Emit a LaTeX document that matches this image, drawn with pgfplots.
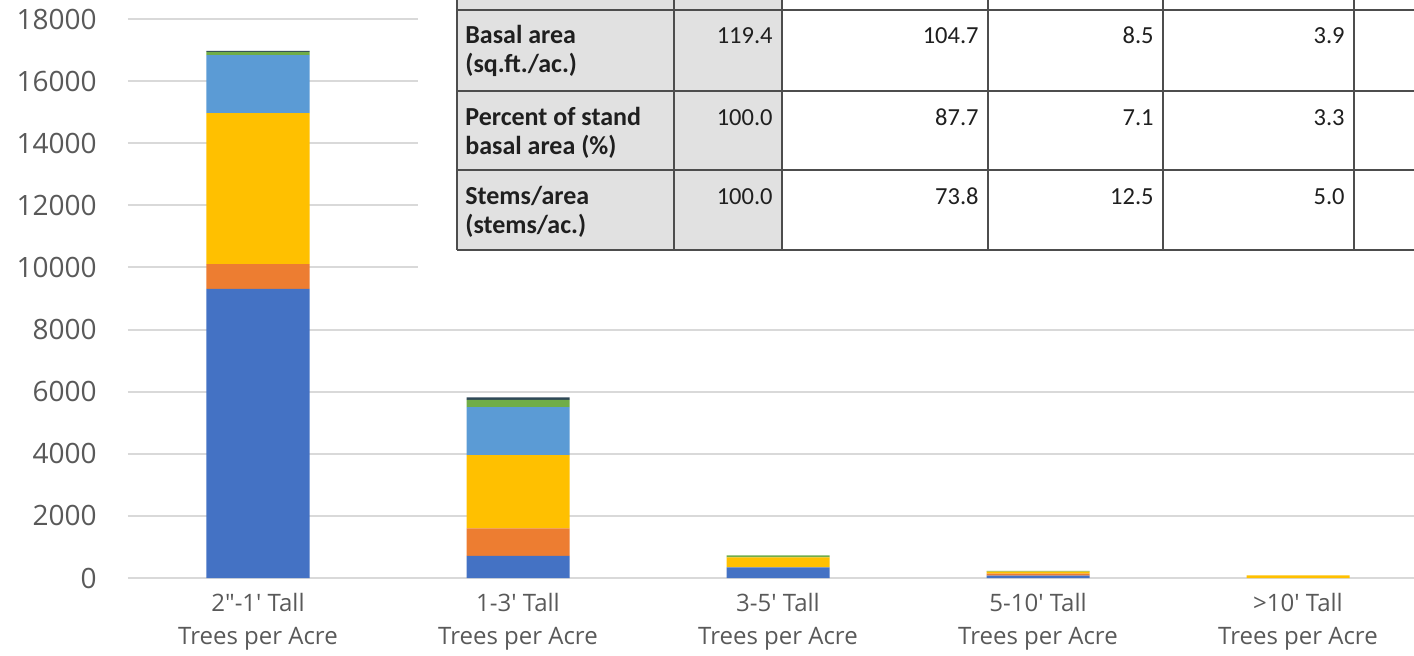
\documentclass[border=0pt]{standalone}
\usepackage{pgfplots}
\pgfplotsset{compat=1.18}
\usepackage{fontspec}
\setmainfont{Open Sans}
\newfontfamily\osans{Open Sans}
\newfontfamily\tabfont{Carlito}
\definecolor{cblue}{HTML}{4472C4}
\definecolor{corange}{HTML}{ED7D31}
\definecolor{cyellow}{HTML}{FFC000}
\definecolor{clblue}{HTML}{5B9BD5}
\definecolor{cgreen}{HTML}{70AD47}
\definecolor{cdark}{HTML}{2F4858}
\definecolor{gridgray}{HTML}{D9D9D9}
\definecolor{labelgray}{HTML}{595959}
\definecolor{tabgray}{HTML}{E1E1E1}
\definecolor{tabline}{HTML}{4D4D4D}
\definecolor{tabtext}{HTML}{1F1F1F}
\begin{document}
\begin{tikzpicture}
\path[use as bounding box] (0,0) rectangle (707pt,327.5pt);
\clip (0,0) rectangle (707pt,327.5pt);
\begin{axis}[
  at={(64pt,38.5pt)}, anchor=south west,
  scale only axis, width=650pt, height=279.5pt,
  xmin=-0.5, xmax=4.5, ymin=0, ymax=18000,
  ybar stacked, bar width=51.5pt,
  axis line style={draw=none},
  major tick length=0pt,
  ymajorgrids, grid style={color=gridgray, line width=1pt},
  ytick={0,2000,...,18000},
  scaled y ticks=false,
  /pgf/number format/assume math mode=true,
  /pgf/number format/set thousands separator={},
  yticklabel style={font=\osans\fontsize{14}{16}\selectfont, text=labelgray, inner sep=0pt, anchor=east, xshift=-15.5pt},
  xtick={0,1,2,3,4},
  xticklabels={{2"-1' Tall\\Trees per Acre},{1-3' Tall\\Trees per Acre},{3-5' Tall\\Trees per Acre},{5-10' Tall\\Trees per Acre},{>10' Tall\\Trees per Acre}},
  xticklabel style={font=\osans\fontsize{12}{16.5}\selectfont, text=labelgray, align=center, inner sep=0pt, anchor=north, yshift=-7.5pt},
]
\addplot[fill=cblue, draw=none] coordinates {(0,9310) (1,710) (2,345) (3,75) (4,0)};
\addplot[fill=corange, draw=none] coordinates {(0,800) (1,890) (2,0) (3,65) (4,0)};
\addplot[fill=cyellow, draw=none] coordinates {(0,4860) (1,2360) (2,320) (3,65) (4,85)};
\addplot[fill=clblue, draw=none] coordinates {(0,1870) (1,1540) (2,0) (3,0) (4,0)};
\addplot[fill=cgreen, draw=none] coordinates {(0,100) (1,235) (2,65) (3,25) (4,0)};
\addplot[fill=cdark, draw=none] coordinates {(0,30) (1,85) (2,0) (3,0) (4,0)};
\end{axis}
\begin{scope}[x=0.5pt,y=-0.5pt,yshift=327.5pt]
\fill[white] (418,-10) rectangle (1430,290);
\fill[tabgray] (457,-40) rectangle (782,250);
\foreach \y in {10,91,170,250} \draw[tabline, line width=0.8pt] (457,\y) -- (1500,\y);
\foreach \x in {457,674,782,988,1163,1354} \draw[tabline, line width=0.8pt] (\x,-40) -- (\x,250);
\tikzset{lab/.style={anchor=base west, inner sep=0pt, text=tabtext, font=\tabfont\bfseries\fontsize{13}{15}\selectfont},
         num/.style={anchor=base east, inner sep=0pt, text=tabtext, font=\tabfont\fontsize{12.25}{14.5}\selectfont}}
\node[lab] at (465,44) {Basal area};
\node[lab] at (465,73) {(sq.ft./ac.)};
\node[lab] at (465,125) {Percent of stand};
\node[lab] at (465,154) {basal area (\%)};
\node[lab] at (465,204) {Stems/area};
\node[lab] at (465,233) {(stems/ac.)};
\node[num] at (773,44) {119.4};
\node[num] at (979,44) {104.7};
\node[num] at (1154,44) {8.5};
\node[num] at (1345,44) {3.9};
\node[num] at (773,125) {100.0};
\node[num] at (979,125) {87.7};
\node[num] at (1154,125) {7.1};
\node[num] at (1345,125) {3.3};
\node[num] at (773,204) {100.0};
\node[num] at (979,204) {73.8};
\node[num] at (1154,204) {12.5};
\node[num] at (1345,204) {5.0};
\end{scope}
\end{tikzpicture}
\end{document}
